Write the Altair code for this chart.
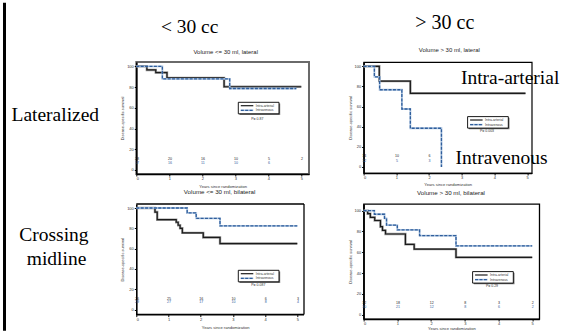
import altair as alt
import pandas as pd

# ---------------- data ----------------
COL_LABELS = ["< 30 cc", "> 30 cc"]
ROW_LABELS = ["Lateralized", "Crossing", "midline"]
CURVE_LABELS = ["Intra-arterial", "Intravenous"]
TITLES = ["Volume <= 30 ml, lateral", "Volume > 30 ml, lateral",
          "Volume <= 30 ml, bilateral", "Volume > 30 ml, bilateral"]
P_VALUES = ["P= 0.87", "P= 0.003", "P= 0.087", "P= 0.29"]
X_TICKS = [0, 1, 2, 3, 4, 5]
Y_TICKS = [0, 20, 40, 60, 80, 100]

# panel 1: volume <= 30, lateral
P1_IA_T = [0, 0.32, 0.59, 0.93, 2.66, 5.0]
P1_IA_S = [100, 96.5, 94, 88.8, 80.3, 80.3]
P1_IV_T = [0, 0.79, 2.83, 4.85]
P1_IV_S = [100, 87.8, 78.6, 78.6]
P1_RISK_IA = [28, 20, 16, 10, 5, 2]
P1_RISK_IV = [17, 16, 11, 10, 6]

# panel 2: volume > 30, lateral
P2_IA_T = [0, 0.48, 1.43, 4.95]
P2_IA_S = [100, 85.3, 73.2, 73.2]
P2_IV_T = [0, 0.33, 0.49, 1.17, 1.43, 2.38]
P2_IV_S = [100, 89.5, 76.7, 57.6, 38.5, 0]
P2_RISK_IA = [14, 10, 6]
P2_RISK_IV = [12, 5, 3]

# panel 3: volume <= 30, bilateral
P3_IA_T = [0, 0.58, 0.65, 1.24, 1.30, 1.36, 1.43, 2.08, 2.60, 5.0]
P3_IA_S = [100, 96, 88.5, 86, 83, 80, 75.5, 71, 65, 65]
P3_IV_T = [0, 1.58, 1.86, 2.60, 5.0]
P3_IV_S = [100, 95.2, 89.7, 82.4, 82.4]
P3_RISK_IA = [26, 25, 16, 10, 6, 3]
P3_RISK_IV = [29, 27, 17, 10, 8, 4]

# panel 4: volume > 30, bilateral
P4_IA_T = [0, 0.12, 0.2, 0.33, 0.5, 0.56, 0.65, 1.24, 1.5, 2.74, 5.0]
P4_IA_S = [100, 97, 93.5, 90.5, 84.5, 81, 77.5, 67.5, 63, 55, 55]
P4_IV_T = [0, 0.32, 0.62, 0.68, 1.0, 1.66, 2.74, 5.0]
P4_IV_S = [100, 96.5, 92.5, 86, 81.5, 76, 66, 66]
P4_RISK_IA = [32, 18, 12, 8, 3, 2]
P4_RISK_IV = [30, 21, 12, 8, 6, 2]

# ---------------- styling ----------------
SANS = "Liberation Sans"
SERIF = "Liberation Serif"
BLACK = "#1b1b1b"
BLUE = "#2f5e9c"
LIGHTBLUE = "#a9c1de"
GREY = "#333333"


def one(text):
    return pd.DataFrame({"label": [text]})


def big_text(text, x, y, size=19.5):
    return alt.Chart(one(text)).mark_text(
        font=SERIF, fontSize=size, color="black", align="left", baseline="alphabetic"
    ).encode(text="label:N", x=alt.value(x), y=alt.value(y))


def rule(x, x2, y, y2, color="black", width=1.2):
    return alt.Chart(one("")).mark_rule(color=color, strokeWidth=width).encode(
        x=alt.value(x), x2=alt.value(x2), y=alt.value(y), y2=alt.value(y2))


def panel(idx, ia_t, ia_s, iv_t, iv_s, risk_ia, risk_iv, xmax, ymin, ymax, w, h,
          title_xy, title_size, risk_y, leg, p_xy, frame_color, frame_width,
          xtitle_pad, x_domain=True, extra=()):
    xs = alt.Scale(domain=[0, xmax], nice=False, zero=False)
    ys = alt.Scale(domain=[ymin, ymax], nice=False, zero=False)
    xaxis = alt.Axis(values=X_TICKS, format="d", title="Years since randomization",
                     titleFont=SANS, titleFontSize=4.1, titleFontWeight="normal",
                     titleColor=GREY, labelFont=SANS, labelFontSize=4, labelColor=GREY,
                     tickSize=2, tickColor="black", domain=x_domain, domainColor="black",
                     domainWidth=1.6, labelPadding=1, titlePadding=xtitle_pad, grid=False)
    yaxis = alt.Axis(values=Y_TICKS, format="d", title="Disease-specific survival",
                     titleFont=SANS, titleFontSize=4, titleFontWeight="normal",
                     titleColor=GREY, labelFont=SANS, labelFontSize=4, labelColor=GREY,
                     tickSize=2, tickColor="black", domainColor="black", domainWidth=1.6,
                     labelPadding=1, titlePadding=1.8, grid=False)
    X = alt.X("t:Q", scale=xs, axis=xaxis)
    Y = alt.Y("s:Q", scale=ys, axis=yaxis)

    ia = pd.DataFrame({"t": ia_t, "s": ia_s})
    iv = pd.DataFrame({"t": iv_t, "s": iv_s})

    layers = [
        alt.Chart(ia).mark_line(interpolate="step-after", color="#9a9a9a", strokeWidth=2.4).encode(x=X, y=Y),
        alt.Chart(ia).mark_line(interpolate="step-after", color=BLACK, strokeWidth=1.2).encode(x=X, y=Y),
        alt.Chart(iv).mark_line(interpolate="step-after", color=LIGHTBLUE, strokeWidth=1.8).encode(x=X, y=Y),
        alt.Chart(iv).mark_line(interpolate="step-after", color=BLUE, strokeWidth=1.3,
                                strokeDash=[3, 1.4]).encode(x=X, y=Y),
    ]
    for risk, ry, col in ((risk_ia, risk_y[0], BLACK), (risk_iv, risk_y[1], BLUE)):
        rdf = pd.DataFrame({"t": X_TICKS[:len(risk)], "n": [str(v) for v in risk]})
        layers.append(
            alt.Chart(rdf).mark_text(font=SANS, fontSize=3.6, color=col, baseline="middle", dx=0.6)
            .encode(x=X, y=alt.value(ry), text="n:N")
        )

    # panel title
    layers.append(alt.Chart(one(TITLES[idx])).mark_text(
        font=SANS, fontSize=title_size, color="#222222", align="center", baseline="middle").encode(
        text="label:N", x=alt.value(title_xy[0]), y=alt.value(title_xy[1])))

    # legend box
    lx, ly = leg
    bw, bh = 40.7, 11.5
    layers.append(alt.Chart(one("")).mark_rect(fill="#777777").encode(
        x=alt.value(lx + 1.2), x2=alt.value(lx + bw + 1.2), y=alt.value(ly + 1.2), y2=alt.value(ly + bh + 1.2)))
    layers.append(alt.Chart(one("")).mark_rect(fill="white", stroke="black", strokeWidth=0.9).encode(
        x=alt.value(lx), x2=alt.value(lx + bw), y=alt.value(ly), y2=alt.value(ly + bh)))
    layers.append(alt.Chart(one("")).mark_rule(color=BLACK, strokeWidth=1.2).encode(
        x=alt.value(lx + 2.5), x2=alt.value(lx + 15), y=alt.value(ly + 3.4)))
    layers.append(alt.Chart(one("")).mark_rule(color=LIGHTBLUE, strokeWidth=1.6).encode(
        x=alt.value(lx + 2.5), x2=alt.value(lx + 15), y=alt.value(ly + 8.0)))
    layers.append(alt.Chart(one("")).mark_rule(color=BLUE, strokeWidth=1.2, strokeDash=[3, 1.4]).encode(
        x=alt.value(lx + 2.5), x2=alt.value(lx + 15), y=alt.value(ly + 8.0)))
    layers.append(alt.Chart(one(CURVE_LABELS[0])).mark_text(
        font=SANS, fontSize=3.4, color=GREY, align="left", baseline="middle").encode(
        text="label:N", x=alt.value(lx + 17.5), y=alt.value(ly + 3.4)))
    layers.append(alt.Chart(one(CURVE_LABELS[1])).mark_text(
        font=SANS, fontSize=3.4, color=GREY, align="left", baseline="middle").encode(
        text="label:N", x=alt.value(lx + 17.5), y=alt.value(ly + 8.0)))
    layers.append(alt.Chart(one(P_VALUES[idx])).mark_text(
        font=SANS, fontSize=3.5, color=GREY, align="center", baseline="middle").encode(
        text="label:N", x=alt.value(p_xy[0]), y=alt.value(p_xy[1])))

    layers.extend(extra)

    return alt.layer(*layers).properties(
        width=w, height=h,
        view=alt.ViewBackground(stroke=frame_color, strokeWidth=frame_width),
    )


# left black bar of the slide
left_bar = alt.Chart(one("")).mark_rule(color="black", strokeWidth=3).encode(
    x=alt.value(-131.8), y=alt.value(-59.2), y2=alt.value(268.8))

p1 = panel(0, P1_IA_T, P1_IA_S, P1_IV_T, P1_IV_S, P1_RISK_IA, P1_RISK_IV,
           xmax=5.233, ymin=-3.86, ymax=104.15, w=172.7, h=112,
           title_xy=(89.4, -9.7), title_size=6,
           risk_y=(97, 100.8), leg=(102, 40.3), p_xy=(121, 57),
           frame_color="#6a6a6a", frame_width=2, xtitle_pad=3.5,
           extra=[left_bar,
                  big_text(COL_LABELS[0], 24.6, -29.2),
                  big_text(ROW_LABELS[0], -124.8, 59.3)])

p2 = panel(1, P2_IA_T, P2_IA_S, P2_IV_T, P2_IV_S, P2_RISK_IA, P2_RISK_IV,
           xmax=5.14, ymin=-5.96, ymax=104.27, w=168.1, h=111,
           title_xy=(85.7, -11.7), title_size=6,
           risk_y=(94.3, 99.3), leg=(104, 54.6), p_xy=(123.4, 68.6),
           frame_color="black", frame_width=1.2, xtitle_pad=2.8,
           extra=[big_text(COL_LABELS[1], 51.7, -32.7, 20),
                  big_text(CURVE_LABELS[0], 97.3, 22.3),
                  big_text(CURVE_LABELS[1], 91.9, 102.3)])

# panel 3: plot area is wider than its drawn frame (frame ends at 167.7 px)
P3_W, P3_FRAME_W, P3_H = 177.7, 167.7, 110.6
p3 = panel(2, P3_IA_T, P3_IA_S, P3_IV_T, P3_IV_S, P3_RISK_IA, P3_RISK_IV,
           xmax=P3_W / 32.2, ymin=-4.92, ymax=103.94, w=P3_W, h=P3_H,
           title_xy=(83.3, -11.7), title_size=6.2,
           risk_y=(94.6, 98.3), leg=(102, 66.3), p_xy=(122, 81),
           frame_color="transparent", frame_width=0, xtitle_pad=3.6, x_domain=False,
           extra=[rule(0, P3_FRAME_W, 0, 0, width=1.3),
                  rule(P3_FRAME_W, P3_FRAME_W, 0, P3_H, width=1.3),
                  rule(0, P3_FRAME_W, P3_H, P3_H, width=1.6),
                  big_text(ROW_LABELS[1], -117, 37.3),
                  big_text(ROW_LABELS[2], -109.5, 61.3)])

p4 = panel(3, P4_IA_T, P4_IA_S, P4_IV_T, P4_IV_S, P4_RISK_IA, P4_RISK_IV,
           xmax=5.21, ymin=-4.23, ymax=106.35, w=175.7, h=115,
           title_xy=(87.4, -11), title_size=6.2,
           risk_y=(99.3, 102.6), leg=(109, 67.6), p_xy=(128.4, 82.3),
           frame_color="black", frame_width=1.3, xtitle_pad=1.0)

chart = alt.concat(p1, p2, p3, p4, columns=2, align="none", bounds="flush",
                   spacing={"row": 30, "column": 49.3}).properties(
    padding={"left": 1.3, "top": 0, "right": 0, "bottom": 0},
    background="white",
)

chart.save("out.html", embed_options={"renderer": "svg", "actions": False})
